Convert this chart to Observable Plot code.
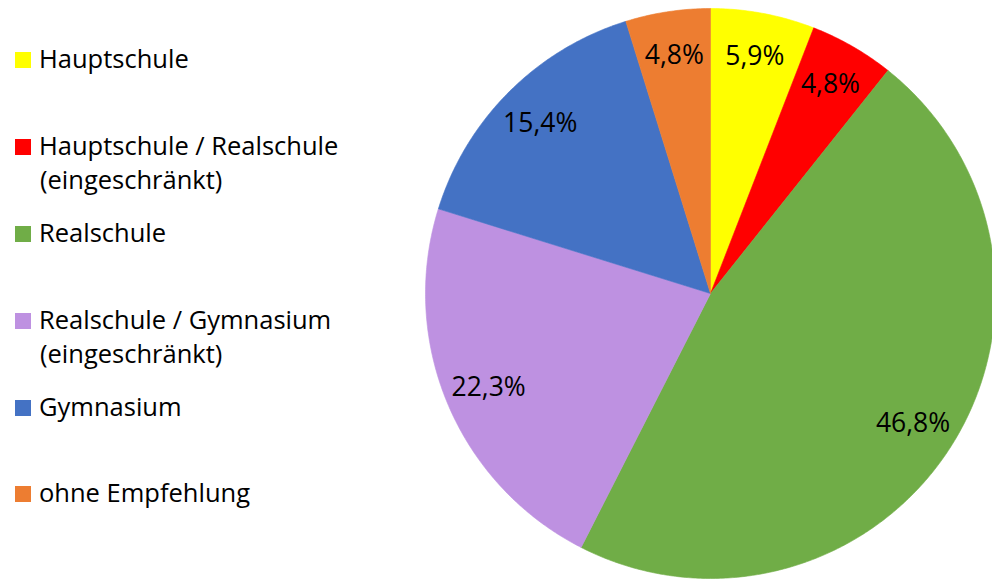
<!DOCTYPE html>
<html>
<head>
<meta charset="utf-8">
<script src="https://cdn.jsdelivr.net/npm/d3@7"></script>
<script src="https://cdn.jsdelivr.net/npm/@observablehq/plot@0.6"></script>
<style>
  html, body { margin: 0; padding: 0; background: #fff; }
  #wrap { position: relative; width: 992px; height: 579px; overflow: hidden; font-family: "Open Sans", sans-serif; }
  #legend { position: absolute; left: 0; top: 0; }
  .item { position: absolute; left: 15px; font-size: 25.5px; line-height: 34px; color: #000; white-space: nowrap; }
  .sw { display: inline-block; width: 16px; height: 16px; margin-right: 8px; vertical-align: baseline; }
  .txt { display: inline-block; vertical-align: baseline; }
</style>
</head>
<body>
<div id="wrap"><div id="chart"></div><div id="legend"></div></div>
<script>
const categories = ["Hauptschule", "Hauptschule / Realschule (eingeschränkt)", "Realschule", "Realschule / Gymnasium (eingeschränkt)", "Gymnasium", "ohne Empfehlung"];
const legendLines = [["Hauptschule"], ["Hauptschule / Realschule", "(eingeschränkt)"], ["Realschule"], ["Realschule / Gymnasium", "(eingeschränkt)"], ["Gymnasium"], ["ohne Empfehlung"]];
const values = [5.9, 4.8, 46.8, 22.3, 15.4, 4.8];
const labels = ["5,9%", "4,8%", "46,8%", "22,3%", "15,4%", "4,8%"];
const colors = ["#FFFF00", "#FF0000", "#70AD47", "#BE91E1", "#4472C4", "#ED7D31"];

const data = categories.map((c, i) => ({cat: c, value: values[i], label: labels[i]}));
const arcs = d3.pie().sort(null).value(d => d.value)(data);

// slice outlines (geometry of each wedge from pie angles)
const slicePts = [];
arcs.forEach(a => {
  slicePts.push({cat: a.data.cat, x: 0, y: 0});
  const n = Math.max(2, Math.ceil((a.endAngle - a.startAngle) / (Math.PI / 360)));
  for (let k = 0; k <= n; k++) {
    const t = a.startAngle + (a.endAngle - a.startAngle) * k / n;
    slicePts.push({cat: a.data.cat, x: Math.sin(t), y: Math.cos(t)});
  }
  slicePts.push({cat: a.data.cat, x: 0, y: 0});
});
const labelR = 0.845;
const labelPts = arcs.map(a => {
  const m = (a.startAngle + a.endAngle) / 2;
  return {label: a.data.label, x: labelR * Math.sin(m), y: labelR * Math.cos(m)};
});

const cx = 710, cy = 293, r = 285;
const chart = Plot.plot({
  width: 992,
  height: 579,
  margin: 0,
  style: {fontFamily: "Open Sans, sans-serif", background: "transparent"},
  x: {domain: [-1, 1], range: [cx - r, cx + r], axis: null},
  y: {domain: [-1, 1], range: [cy + r, cy - r], axis: null},
  color: {domain: categories, range: colors},
  marks: [
    Plot.line(slicePts, {x: "x", y: "y", z: "cat", fill: "cat", stroke: "cat", strokeWidth: 0.6, curve: "linear"}),
    Plot.text(labelPts, {x: "x", y: "y", text: "label", fontSize: 26.5, fill: "#000", textAnchor: "middle", lineAnchor: "middle"})
  ]
});
document.getElementById("chart").appendChild(chart);

// legend
const baseFirst = 68, step = 86.8, ascent = 26.7;
const leg = document.getElementById("legend");
legendLines.forEach((lines, i) => {
  const top = baseFirst + i * step - ascent;
  lines.forEach((ln, j) => {
    const div = document.createElement("div");
    div.className = "item";
    div.style.top = (top + j * 34) + "px";
    if (j === 0) {
      const sw = document.createElement("span");
      sw.className = "sw";
      sw.style.background = colors[i];
      div.appendChild(sw);
    } else {
      div.style.left = (15 + 16 + 9) + "px";
    }
    const t = document.createElement("span");
    t.className = "txt";
    t.textContent = ln;
    div.appendChild(t);
    leg.appendChild(div);
  });
});
</script>
</body>
</html>
